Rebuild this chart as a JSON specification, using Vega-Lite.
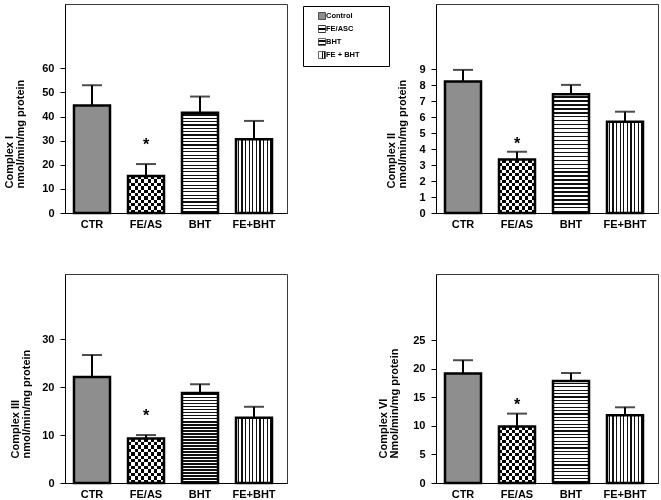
{
"$schema": "https://vega.github.io/schema/vega-lite/v6.json",
"padding": {"left": 3, "top": 3, "right": 2, "bottom": 2},
"background": "white",
"config": {
 "view": {"stroke": "#3a3a3a", "strokeWidth": 1},
 "font": "Liberation Sans",
 "axis": {"labelFont": "Liberation Sans", "labelFontWeight": "bold", "labelColor": "#000", "titleFont": "Liberation Sans", "titleFontWeight": "bold", "titleColor": "#000", "grid": false, "domainColor": "#000", "tickColor": "#000"},
 "axisY": {"labelFontSize": 11, "tickSize": 5, "labelPadding": 6, "titleFontSize": 11, "titleLineHeight": 11, "titleAlign": "left", "titleY": 184},
 "axisX": {"labelFontSize": 11, "ticks": false, "labelPadding": 5, "labelAngle": 0, "title": null}
},
"params": [
 {"name": "gBHT", "value": {"gradient": "linear", "x1": 0, "y1": 0, "x2": 0, "y2": 1, "stops": [
  {"offset":0,"color":"#fff"},
  {"offset":0.0167,"color":"#fff"},{"offset":0.0167,"color":"#111"},{"offset":0.0287,"color":"#111"},{"offset":0.0287,"color":"#fff"},
  {"offset":0.05,"color":"#fff"},{"offset":0.05,"color":"#111"},{"offset":0.062,"color":"#111"},{"offset":0.062,"color":"#fff"},
  {"offset":0.0833,"color":"#fff"},{"offset":0.0833,"color":"#111"},{"offset":0.0953,"color":"#111"},{"offset":0.0953,"color":"#fff"},
  {"offset":0.1167,"color":"#fff"},{"offset":0.1167,"color":"#111"},{"offset":0.1287,"color":"#111"},{"offset":0.1287,"color":"#fff"},
  {"offset":0.15,"color":"#fff"},{"offset":0.15,"color":"#111"},{"offset":0.162,"color":"#111"},{"offset":0.162,"color":"#fff"},
  {"offset":0.1833,"color":"#fff"},{"offset":0.1833,"color":"#111"},{"offset":0.1953,"color":"#111"},{"offset":0.1953,"color":"#fff"},
  {"offset":0.2167,"color":"#fff"},{"offset":0.2167,"color":"#111"},{"offset":0.2287,"color":"#111"},{"offset":0.2287,"color":"#fff"},
  {"offset":0.25,"color":"#fff"},{"offset":0.25,"color":"#111"},{"offset":0.262,"color":"#111"},{"offset":0.262,"color":"#fff"},
  {"offset":0.2833,"color":"#fff"},{"offset":0.2833,"color":"#111"},{"offset":0.2953,"color":"#111"},{"offset":0.2953,"color":"#fff"},
  {"offset":0.3167,"color":"#fff"},{"offset":0.3167,"color":"#111"},{"offset":0.3287,"color":"#111"},{"offset":0.3287,"color":"#fff"},
  {"offset":0.35,"color":"#fff"},{"offset":0.35,"color":"#111"},{"offset":0.362,"color":"#111"},{"offset":0.362,"color":"#fff"},
  {"offset":0.3833,"color":"#fff"},{"offset":0.3833,"color":"#111"},{"offset":0.3953,"color":"#111"},{"offset":0.3953,"color":"#fff"},
  {"offset":0.4167,"color":"#fff"},{"offset":0.4167,"color":"#111"},{"offset":0.4287,"color":"#111"},{"offset":0.4287,"color":"#fff"},
  {"offset":0.45,"color":"#fff"},{"offset":0.45,"color":"#111"},{"offset":0.462,"color":"#111"},{"offset":0.462,"color":"#fff"},
  {"offset":0.4833,"color":"#fff"},{"offset":0.4833,"color":"#111"},{"offset":0.4953,"color":"#111"},{"offset":0.4953,"color":"#fff"},
  {"offset":0.5167,"color":"#fff"},{"offset":0.5167,"color":"#111"},{"offset":0.5287,"color":"#111"},{"offset":0.5287,"color":"#fff"},
  {"offset":0.55,"color":"#fff"},{"offset":0.55,"color":"#111"},{"offset":0.562,"color":"#111"},{"offset":0.562,"color":"#fff"},
  {"offset":0.5833,"color":"#fff"},{"offset":0.5833,"color":"#111"},{"offset":0.5953,"color":"#111"},{"offset":0.5953,"color":"#fff"},
  {"offset":0.6167,"color":"#fff"},{"offset":0.6167,"color":"#111"},{"offset":0.6287,"color":"#111"},{"offset":0.6287,"color":"#fff"},
  {"offset":0.65,"color":"#fff"},{"offset":0.65,"color":"#111"},{"offset":0.662,"color":"#111"},{"offset":0.662,"color":"#fff"},
  {"offset":0.6833,"color":"#fff"},{"offset":0.6833,"color":"#111"},{"offset":0.6953,"color":"#111"},{"offset":0.6953,"color":"#fff"},
  {"offset":0.7167,"color":"#fff"},{"offset":0.7167,"color":"#111"},{"offset":0.7287,"color":"#111"},{"offset":0.7287,"color":"#fff"},
  {"offset":0.75,"color":"#fff"},{"offset":0.75,"color":"#111"},{"offset":0.762,"color":"#111"},{"offset":0.762,"color":"#fff"},
  {"offset":0.7833,"color":"#fff"},{"offset":0.7833,"color":"#111"},{"offset":0.7953,"color":"#111"},{"offset":0.7953,"color":"#fff"},
  {"offset":0.8167,"color":"#fff"},{"offset":0.8167,"color":"#111"},{"offset":0.8287,"color":"#111"},{"offset":0.8287,"color":"#fff"},
  {"offset":0.85,"color":"#fff"},{"offset":0.85,"color":"#111"},{"offset":0.862,"color":"#111"},{"offset":0.862,"color":"#fff"},
  {"offset":0.8833,"color":"#fff"},{"offset":0.8833,"color":"#111"},{"offset":0.8953,"color":"#111"},{"offset":0.8953,"color":"#fff"},
  {"offset":0.9167,"color":"#fff"},{"offset":0.9167,"color":"#111"},{"offset":0.9287,"color":"#111"},{"offset":0.9287,"color":"#fff"},
  {"offset":0.95,"color":"#fff"},{"offset":0.95,"color":"#111"},{"offset":0.962,"color":"#111"},{"offset":0.962,"color":"#fff"},
  {"offset":0.9833,"color":"#fff"},{"offset":0.9833,"color":"#111"},{"offset":0.9953,"color":"#111"},{"offset":0.9953,"color":"#fff"},
  {"offset":1,"color":"#fff"}]}},
 {"name": "gFEBHT", "value": {"gradient": "linear", "x1": 0, "y1": 0, "x2": 1, "y2": 0, "stops": [
  {"offset":0,"color":"#fff"},
  {"offset":0.05,"color":"#fff"},{"offset":0.05,"color":"#111"},{"offset":0.085,"color":"#111"},{"offset":0.085,"color":"#fff"},
  {"offset":0.15,"color":"#fff"},{"offset":0.15,"color":"#111"},{"offset":0.185,"color":"#111"},{"offset":0.185,"color":"#fff"},
  {"offset":0.25,"color":"#fff"},{"offset":0.25,"color":"#111"},{"offset":0.285,"color":"#111"},{"offset":0.285,"color":"#fff"},
  {"offset":0.35,"color":"#fff"},{"offset":0.35,"color":"#111"},{"offset":0.385,"color":"#111"},{"offset":0.385,"color":"#fff"},
  {"offset":0.45,"color":"#fff"},{"offset":0.45,"color":"#111"},{"offset":0.485,"color":"#111"},{"offset":0.485,"color":"#fff"},
  {"offset":0.55,"color":"#fff"},{"offset":0.55,"color":"#111"},{"offset":0.585,"color":"#111"},{"offset":0.585,"color":"#fff"},
  {"offset":0.65,"color":"#fff"},{"offset":0.65,"color":"#111"},{"offset":0.685,"color":"#111"},{"offset":0.685,"color":"#fff"},
  {"offset":0.75,"color":"#fff"},{"offset":0.75,"color":"#111"},{"offset":0.785,"color":"#111"},{"offset":0.785,"color":"#fff"},
  {"offset":0.85,"color":"#fff"},{"offset":0.85,"color":"#111"},{"offset":0.885,"color":"#111"},{"offset":0.885,"color":"#fff"},
  {"offset":0.95,"color":"#fff"},{"offset":0.95,"color":"#111"},{"offset":0.985,"color":"#111"},{"offset":0.985,"color":"#fff"},
  {"offset":1,"color":"#fff"}]}},
 {"name": "gFEv", "value": {"gradient": "linear", "x1": 0, "y1": 0, "x2": 1, "y2": 0, "stops": [
  {"offset":0,"color":"#fff"},{"offset":0.0909,"color":"#fff"},{"offset":0.0909,"color":"#000"},{"offset":0.1818,"color":"#000"},
  {"offset":0.1818,"color":"#fff"},{"offset":0.2727,"color":"#fff"},{"offset":0.2727,"color":"#000"},{"offset":0.3636,"color":"#000"},
  {"offset":0.3636,"color":"#fff"},{"offset":0.4545,"color":"#fff"},{"offset":0.4545,"color":"#000"},{"offset":0.5455,"color":"#000"},
  {"offset":0.5455,"color":"#fff"},{"offset":0.6364,"color":"#fff"},{"offset":0.6364,"color":"#000"},{"offset":0.7273,"color":"#000"},
  {"offset":0.7273,"color":"#fff"},{"offset":0.8182,"color":"#fff"},{"offset":0.8182,"color":"#000"},{"offset":0.9091,"color":"#000"},
  {"offset":0.9091,"color":"#fff"},{"offset":1,"color":"#fff"}]}},
 {"name": "gFE1", "value": {"gradient": "linear", "x1": 0, "y1": 0, "x2": 0, "y2": 1, "stops": [
  {"offset":0,"color":"#000"},{"offset":0.0909,"color":"#000"},{"offset":0.0909,"color":"#fff"},{"offset":0.1818,"color":"#fff"},
  {"offset":0.1818,"color":"#000"},{"offset":0.2727,"color":"#000"},{"offset":0.2727,"color":"#fff"},{"offset":0.3636,"color":"#fff"},
  {"offset":0.3636,"color":"#000"},{"offset":0.4545,"color":"#000"},{"offset":0.4545,"color":"#fff"},{"offset":0.5455,"color":"#fff"},
  {"offset":0.5455,"color":"#000"},{"offset":0.6364,"color":"#000"},{"offset":0.6364,"color":"#fff"},{"offset":0.7273,"color":"#fff"},
  {"offset":0.7273,"color":"#000"},{"offset":0.8182,"color":"#000"},{"offset":0.8182,"color":"#fff"},{"offset":0.9091,"color":"#fff"},
  {"offset":0.9091,"color":"#000"},{"offset":1,"color":"#000"}]}},
 {"name": "gFE2", "value": {"gradient": "linear", "x1": 0, "y1": 0, "x2": 0, "y2": 1, "stops": [
  {"offset":0,"color":"#000"},{"offset":0.0625,"color":"#000"},{"offset":0.0625,"color":"#fff"},{"offset":0.125,"color":"#fff"},
  {"offset":0.125,"color":"#000"},{"offset":0.1875,"color":"#000"},{"offset":0.1875,"color":"#fff"},{"offset":0.25,"color":"#fff"},
  {"offset":0.25,"color":"#000"},{"offset":0.3125,"color":"#000"},{"offset":0.3125,"color":"#fff"},{"offset":0.375,"color":"#fff"},
  {"offset":0.375,"color":"#000"},{"offset":0.4375,"color":"#000"},{"offset":0.4375,"color":"#fff"},{"offset":0.5,"color":"#fff"},
  {"offset":0.5,"color":"#000"},{"offset":0.5625,"color":"#000"},{"offset":0.5625,"color":"#fff"},{"offset":0.625,"color":"#fff"},
  {"offset":0.625,"color":"#000"},{"offset":0.6875,"color":"#000"},{"offset":0.6875,"color":"#fff"},{"offset":0.75,"color":"#fff"},
  {"offset":0.75,"color":"#000"},{"offset":0.8125,"color":"#000"},{"offset":0.8125,"color":"#fff"},{"offset":0.875,"color":"#fff"},
  {"offset":0.875,"color":"#000"},{"offset":0.9375,"color":"#000"},{"offset":0.9375,"color":"#fff"},{"offset":1,"color":"#fff"}]}},
 {"name": "gFE3", "value": {"gradient": "linear", "x1": 0, "y1": 0, "x2": 0, "y2": 1, "stops": [
  {"offset":0,"color":"#000"},{"offset":0.0769,"color":"#000"},{"offset":0.0769,"color":"#fff"},{"offset":0.1538,"color":"#fff"},
  {"offset":0.1538,"color":"#000"},{"offset":0.2308,"color":"#000"},{"offset":0.2308,"color":"#fff"},{"offset":0.3077,"color":"#fff"},
  {"offset":0.3077,"color":"#000"},{"offset":0.3846,"color":"#000"},{"offset":0.3846,"color":"#fff"},{"offset":0.4615,"color":"#fff"},
  {"offset":0.4615,"color":"#000"},{"offset":0.5385,"color":"#000"},{"offset":0.5385,"color":"#fff"},{"offset":0.6154,"color":"#fff"},
  {"offset":0.6154,"color":"#000"},{"offset":0.6923,"color":"#000"},{"offset":0.6923,"color":"#fff"},{"offset":0.7692,"color":"#fff"},
  {"offset":0.7692,"color":"#000"},{"offset":0.8462,"color":"#000"},{"offset":0.8462,"color":"#fff"},{"offset":0.9231,"color":"#fff"},
  {"offset":0.9231,"color":"#000"},{"offset":1,"color":"#000"}]}},
 {"name": "gFE4", "value": {"gradient": "linear", "x1": 0, "y1": 0, "x2": 0, "y2": 1, "stops": [
  {"offset":0,"color":"#000"},{"offset":0.0588,"color":"#000"},{"offset":0.0588,"color":"#fff"},{"offset":0.1176,"color":"#fff"},
  {"offset":0.1176,"color":"#000"},{"offset":0.1765,"color":"#000"},{"offset":0.1765,"color":"#fff"},{"offset":0.2353,"color":"#fff"},
  {"offset":0.2353,"color":"#000"},{"offset":0.2941,"color":"#000"},{"offset":0.2941,"color":"#fff"},{"offset":0.3529,"color":"#fff"},
  {"offset":0.3529,"color":"#000"},{"offset":0.4118,"color":"#000"},{"offset":0.4118,"color":"#fff"},{"offset":0.4706,"color":"#fff"},
  {"offset":0.4706,"color":"#000"},{"offset":0.5294,"color":"#000"},{"offset":0.5294,"color":"#fff"},{"offset":0.5882,"color":"#fff"},
  {"offset":0.5882,"color":"#000"},{"offset":0.6471,"color":"#000"},{"offset":0.6471,"color":"#fff"},{"offset":0.7059,"color":"#fff"},
  {"offset":0.7059,"color":"#000"},{"offset":0.7647,"color":"#000"},{"offset":0.7647,"color":"#fff"},{"offset":0.8235,"color":"#fff"},
  {"offset":0.8235,"color":"#000"},{"offset":0.8824,"color":"#000"},{"offset":0.8824,"color":"#fff"},{"offset":0.9412,"color":"#fff"},
  {"offset":0.9412,"color":"#000"},{"offset":1,"color":"#000"}]}}
],
"columns": 2,
"spacing": {"row": 61, "column": 149},
"bounds": "flush",
"resolve": {"scale": {"fill": "independent", "x": "independent", "y": "independent"}, "legend": {"fill": "independent"}},
"concat": [
 {
  "width": 222, "height": 209,
  "data": {"values": [
   {"g": "CTR", "v": 44.6, "e": 53.0},
   {"g": "FE/AS", "v": 15.3, "e": 20.3},
   {"g": "BHT", "v": 41.6, "e": 48.3},
   {"g": "FE+BHT", "v": 30.6, "e": 38.2}
  ]},
  "encoding": {
   "x": {"field": "g", "type": "nominal", "sort": null, "scale": {"domain": ["CTR", "FE/AS", "BHT", "FE+BHT"], "paddingInner": 0.333, "paddingOuter": 0.222, "align": 0.375}, "axis": {"title": null}},
   "y": {"field": "v", "type": "quantitative", "scale": {"domain": [0, 86.7], "nice": false}, "axis": {"values": [0, 10, 20, 30, 40, 50, 60], "title": ["Complex I", "nmol/min/mg protein"], "titlePadding": 16}}
  },
  "layer": [
   {"mark": {"type": "bar"}, "encoding": {"fill": {"field": "g", "type": "nominal", "sort": null,
     "scale": {"domain": ["CTR", "FE/AS", "BHT", "FE+BHT"], "range": ["#8e8e8e", {"expr": "gFE1"}, {"expr": "gBHT"}, {"expr": "gFEBHT"}]},
     "legend": {"orient": "none", "legendX": 238, "legendY": 2, "title": null, "strokeColor": "#000", "fillColor": "#fff", "padding": 6,
       "symbolType": "square", "symbolSize": 49, "symbolStrokeColor": "#000", "symbolStrokeWidth": 0.6, "symbolOffset": 9,
       "labelFont": "Liberation Sans", "labelFontWeight": "bold", "labelFontSize": 7.5, "labelColor": "#000", "labelOffset": 0, "rowPadding": 3,
       "labelExpr": "{'CTR':'Control','FE/AS':'FE/ASC','BHT':'BHT','FE+BHT':'FE + BHT'}[datum.label] + '\u00a0\u00a0\u00a0\u00a0\u00a0\u00a0\u00a0\u00a0\u00a0\u00a0\u00a0\u200b'"}}}},
   {"transform": [{"filter": "datum.g == 'FE/AS'"}], "mark": {"type": "bar", "fill": {"expr": "gFEv"}, "blend": "difference"}},
   {"mark": {"type": "bar", "fill": "#fff", "fillOpacity": 0, "stroke": "#000", "strokeWidth": 2.5}},
   {"mark": {"type": "rule", "color": "#000", "strokeWidth": 2}, "encoding": {"y2": {"field": "e"}}},
   {"mark": {"type": "tick", "color": "#000", "thickness": 2, "size": 20}, "encoding": {"y": {"field": "e", "type": "quantitative", "title": ["Complex I", "nmol/min/mg protein"]}}},
   {"transform": [{"filter": "datum.g == 'FE/AS'"}], "mark": {"type": "text", "text": "*", "fontSize": 16, "fontWeight": "bold", "font": "Liberation Sans", "baseline": "alphabetic", "dy": -14, "color": "#000"}, "encoding": {"y": {"field": "e", "type": "quantitative", "title": ["Complex I", "nmol/min/mg protein"]}}}
  ]
 },
 {
  "width": 222, "height": 209,
  "data": {"values": [
   {"g": "CTR", "v": 8.24, "e": 8.97},
   {"g": "FE/AS", "v": 3.35, "e": 3.84},
   {"g": "BHT", "v": 7.44, "e": 8.03},
   {"g": "FE+BHT", "v": 5.72, "e": 6.35}
  ]},
  "encoding": {
   "x": {"field": "g", "type": "nominal", "sort": null, "scale": {"domain": ["CTR", "FE/AS", "BHT", "FE+BHT"], "paddingInner": 0.333, "paddingOuter": 0.222, "align": 0.375}, "axis": {"title": null}},
   "y": {"field": "v", "type": "quantitative", "scale": {"domain": [0, 13.1], "nice": false}, "axis": {"values": [0, 1, 2, 3, 4, 5, 6, 7, 8, 9], "title": ["Complex II", "nmol/min/mg protein"], "titlePadding": 11}}
  },
  "layer": [
   {"mark": {"type": "bar"}, "encoding": {"fill": {"field": "g", "type": "nominal", "sort": null,
     "scale": {"domain": ["CTR", "FE/AS", "BHT", "FE+BHT"], "range": ["#8e8e8e", {"expr": "gFE2"}, {"expr": "gBHT"}, {"expr": "gFEBHT"}]}, "legend": null}}},
   {"transform": [{"filter": "datum.g == 'FE/AS'"}], "mark": {"type": "bar", "fill": {"expr": "gFEv"}, "blend": "difference"}},
   {"mark": {"type": "bar", "fill": "#fff", "fillOpacity": 0, "stroke": "#000", "strokeWidth": 2.5}},
   {"mark": {"type": "rule", "color": "#000", "strokeWidth": 2}, "encoding": {"y2": {"field": "e"}}},
   {"mark": {"type": "tick", "color": "#000", "thickness": 2, "size": 20}, "encoding": {"y": {"field": "e", "type": "quantitative", "title": ["Complex II", "nmol/min/mg protein"]}}},
   {"transform": [{"filter": "datum.g == 'FE/AS'"}], "mark": {"type": "text", "text": "*", "fontSize": 16, "fontWeight": "bold", "font": "Liberation Sans", "baseline": "alphabetic", "dy": -3, "color": "#000"}, "encoding": {"y": {"field": "e", "type": "quantitative", "title": ["Complex II", "nmol/min/mg protein"]}}}
  ]
 },
 {
  "width": 222, "height": 209,
  "data": {"values": [
   {"g": "CTR", "v": 22.1, "e": 26.7},
   {"g": "FE/AS", "v": 9.3, "e": 10.0},
   {"g": "BHT", "v": 18.8, "e": 20.6},
   {"g": "FE+BHT", "v": 13.6, "e": 15.9}
  ]},
  "encoding": {
   "x": {"field": "g", "type": "nominal", "sort": null, "scale": {"domain": ["CTR", "FE/AS", "BHT", "FE+BHT"], "paddingInner": 0.333, "paddingOuter": 0.222, "align": 0.375}, "axis": {"title": null}},
   "y": {"field": "v", "type": "quantitative", "scale": {"domain": [0, 43.6], "nice": false}, "axis": {"values": [0, 10, 20, 30], "title": ["Complex III", "nmol/min/mg protein"], "titlePadding": 10}}
  },
  "layer": [
   {"mark": {"type": "bar"}, "encoding": {"fill": {"field": "g", "type": "nominal", "sort": null,
     "scale": {"domain": ["CTR", "FE/AS", "BHT", "FE+BHT"], "range": ["#8e8e8e", {"expr": "gFE3"}, {"expr": "gBHT"}, {"expr": "gFEBHT"}]}, "legend": null}}},
   {"transform": [{"filter": "datum.g == 'FE/AS'"}], "mark": {"type": "bar", "fill": {"expr": "gFEv"}, "blend": "difference"}},
   {"mark": {"type": "bar", "fill": "#fff", "fillOpacity": 0, "stroke": "#000", "strokeWidth": 2.5}},
   {"mark": {"type": "rule", "color": "#000", "strokeWidth": 2}, "encoding": {"y2": {"field": "e"}}},
   {"mark": {"type": "tick", "color": "#000", "thickness": 2, "size": 20}, "encoding": {"y": {"field": "e", "type": "quantitative", "title": ["Complex III", "nmol/min/mg protein"]}}},
   {"transform": [{"filter": "datum.g == 'FE/AS'"}], "mark": {"type": "text", "text": "*", "fontSize": 16, "fontWeight": "bold", "font": "Liberation Sans", "baseline": "alphabetic", "dy": -14, "color": "#000"}, "encoding": {"y": {"field": "e", "type": "quantitative", "title": ["Complex III", "nmol/min/mg protein"]}}}
  ]
 },
 {
  "width": 222, "height": 209,
  "data": {"values": [
   {"g": "CTR", "v": 19.16, "e": 21.5},
   {"g": "FE/AS", "v": 9.9, "e": 12.15},
   {"g": "BHT", "v": 17.86, "e": 19.26},
   {"g": "FE+BHT", "v": 11.86, "e": 13.26}
  ]},
  "encoding": {
   "x": {"field": "g", "type": "nominal", "sort": null, "scale": {"domain": ["CTR", "FE/AS", "BHT", "FE+BHT"], "paddingInner": 0.333, "paddingOuter": 0.222, "align": 0.375}, "axis": {"title": null}},
   "y": {"field": "v", "type": "quantitative", "scale": {"domain": [0, 36.6], "nice": false}, "axis": {"values": [0, 5, 10, 15, 20, 25], "title": ["Complex VI", "Nmol/min/mg protein"], "titlePadding": 13}}
  },
  "layer": [
   {"mark": {"type": "bar"}, "encoding": {"fill": {"field": "g", "type": "nominal", "sort": null,
     "scale": {"domain": ["CTR", "FE/AS", "BHT", "FE+BHT"], "range": ["#8e8e8e", {"expr": "gFE4"}, {"expr": "gBHT"}, {"expr": "gFEBHT"}]}, "legend": null}}},
   {"transform": [{"filter": "datum.g == 'FE/AS'"}], "mark": {"type": "bar", "fill": {"expr": "gFEv"}, "blend": "difference"}},
   {"mark": {"type": "bar", "fill": "#fff", "fillOpacity": 0, "stroke": "#000", "strokeWidth": 2.5}},
   {"mark": {"type": "rule", "color": "#000", "strokeWidth": 2}, "encoding": {"y2": {"field": "e"}}},
   {"mark": {"type": "tick", "color": "#000", "thickness": 2, "size": 20}, "encoding": {"y": {"field": "e", "type": "quantitative", "title": ["Complex VI", "Nmol/min/mg protein"]}}},
   {"transform": [{"filter": "datum.g == 'FE/AS'"}], "mark": {"type": "text", "text": "*", "fontSize": 16, "fontWeight": "bold", "font": "Liberation Sans", "baseline": "alphabetic", "dy": -4, "color": "#000"}, "encoding": {"y": {"field": "e", "type": "quantitative", "title": ["Complex VI", "Nmol/min/mg protein"]}}}
  ]
 }
]
}
